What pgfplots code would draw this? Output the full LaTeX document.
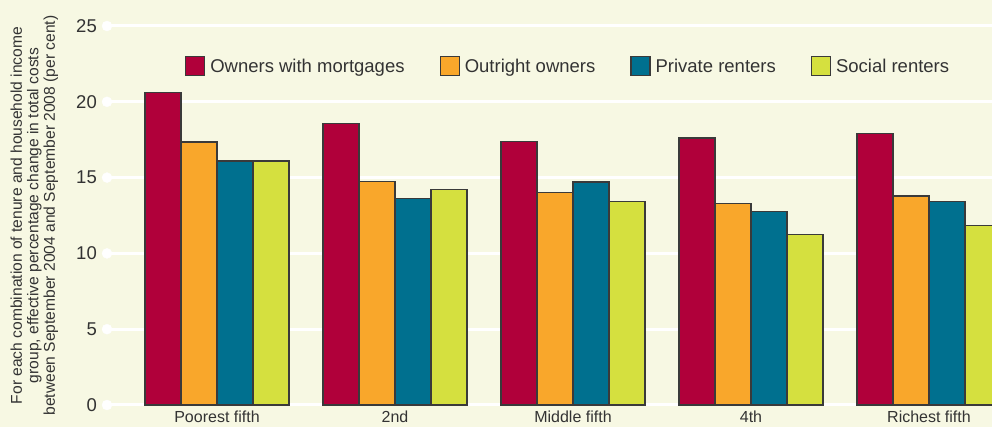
\documentclass[border=0pt]{standalone}
\usepackage{pgfplots}
\pgfplotsset{compat=1.18}
\usepackage{fontspec}
\setmainfont{Liberation Sans}
\definecolor{bg}{HTML}{F7F8E3}
\definecolor{c1}{HTML}{B0003A}
\definecolor{c2}{HTML}{F9A72B}
\definecolor{c3}{HTML}{00708F}
\definecolor{c4}{HTML}{D5E03F}
\definecolor{txt}{HTML}{333333}
\definecolor{edge}{HTML}{3A3A3A}
\begin{document}
\begin{tikzpicture}[x=1pt,y=1pt]
\fill[bg] (0,0) rectangle (992,427);
\useasboundingbox (0,0) rectangle (992,427);
\begin{axis}[
  at={(107pt,22pt)}, anchor=south west,
  scale only axis, width=885pt, height=379pt,
  xmin=-0.618, xmax=4.354, ymin=0, ymax=25,
  clip=false,
  axis line style={draw=none},
  tick style={draw=none},
  ytick={0,5,...,25},
  ymajorgrids, grid style={white, line width=3pt},
  xtick={0,...,4},
  xticklabels={Poorest fifth,2nd,Middle fifth,4th,Richest fifth},
  xticklabel style={font=\fontsize{16}{18}\selectfont, text=txt, inner sep=0pt, anchor=north, yshift=-6pt},
  yticklabel style={font=\fontsize{18.5}{20}\selectfont, text=txt, anchor=east, inner sep=0pt, xshift=-10pt},
  /pgf/number format/assume math mode=true,
  ylabel={For each combination of tenure and household income\\group, effective percentage change in total costs\\between September 2004 and September 2008 (per cent)},
  ylabel style={align=center, font=\fontsize{15.6}{16.5}\selectfont, text=txt, at={(rel axis cs:-0.0820,0.5)}, anchor=center},
  legend image code/.code={\draw[#1, draw=edge, line width=1.2pt] (0pt,-9.5pt) rectangle (19pt,9.5pt);},
  legend style={at={(rel axis cs:0.088,0.894)}, anchor=west, draw=none, fill=none, inner sep=0pt,
    legend columns=-1, font=\fontsize{18.5}{20}\selectfont, text=txt,
    /tikz/every even column/.append style={column sep=30pt},
    nodes={inner sep=5pt}},
  legend cell align=left,
]
\addplot[forget plot, only marks, mark=*, mark size=5pt, white] coordinates {(-0.618,0) (-0.618,5) (-0.618,10) (-0.618,15) (-0.618,20) (-0.618,25)};
\addplot[ybar, bar width=0.2022, bar shift=-0.3033, fill=c1, draw=edge, line width=1.2pt] coordinates {(0,20.6) (1,18.58) (2,17.37) (3,17.61) (4,17.9)};
\addplot[ybar, bar width=0.2022, bar shift=-0.1011, fill=c2, draw=edge, line width=1.2pt] coordinates {(0,17.35) (1,14.73) (2,14.0) (3,13.3) (4,13.79)};
\addplot[ybar, bar width=0.2022, bar shift=0.1011, fill=c3, draw=edge, line width=1.2pt] coordinates {(0,16.1) (1,13.63) (2,14.71) (3,12.75) (4,13.41)};
\addplot[ybar, bar width=0.2022, bar shift=0.3033, fill=c4, draw=edge, line width=1.2pt] coordinates {(0,16.1) (1,14.23) (2,13.41) (3,11.26) (4,11.83)};
\legend{Owners with mortgages, Outright owners, Private renters, Social renters}
\end{axis}
\end{tikzpicture}
\end{document}
